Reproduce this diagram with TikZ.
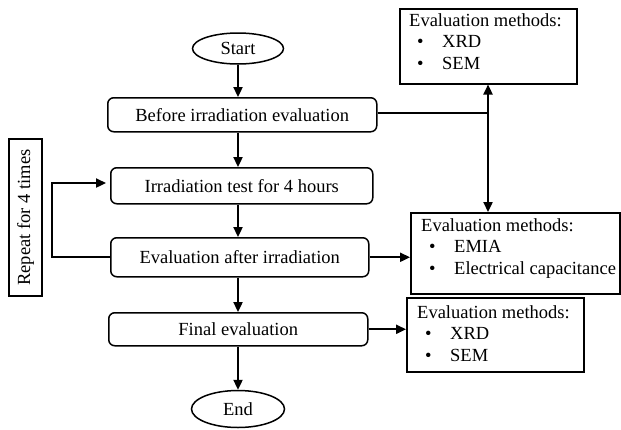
\documentclass[tikz,border=0pt]{standalone}
\usepackage{fontspec}
\setmainfont{Liberation Serif}
\usetikzlibrary{arrows.meta,shapes.geometric}
\newcommand{\bitem}[1]{\hspace*{8pt}\makebox[25pt][l]{\textbullet}#1}
\begin{document}
\begin{tikzpicture}[x=1pt,y=-1pt,
  every node/.style={font=\fontsize{18.5}{21.5}\selectfont, inner sep=0pt},
  stepbox/.style={draw, rounded corners=6pt, line width=1.5pt, anchor=north west},
  termbox/.style={draw, ellipse, line width=1.5pt},
  methbox/.style={draw, line width=1.5pt, anchor=north west},
  flow/.style={line width=2.3pt, -{Triangle[length=10pt,width=9pt]}},
  plain/.style={line width=2.3pt}]
\useasboundingbox (0,0) rectangle (621,429);
% terminals
\node[termbox, minimum width=91pt, minimum height=31pt] (start) at (238,48.5) {Start};
\node[termbox, minimum width=93pt, minimum height=37pt] (end) at (238,409) {End};
% process boxes
\node[stepbox, minimum width=269pt, minimum height=34pt] (before) at (107,97) {Before irradiation evaluation};
\node[stepbox, minimum width=262pt, minimum height=36pt] (irr) at (110,167) {Irradiation test for 4 hours};
\node[stepbox, minimum width=258pt, minimum height=39pt] (after) at (110,237) {Evaluation after irradiation};
\node[stepbox, minimum width=259pt, minimum height=33pt] (final) at (108,312) {Final evaluation};
% method boxes
\node[methbox, minimum width=177pt, minimum height=75pt] (m1) at (399,8) {};
\node[anchor=north west, align=left] at (409,13) {Evaluation methods:\\ \bitem{XRD}\\ \bitem{SEM}};
\node[methbox, minimum width=209pt, minimum height=81pt] (m2) at (410,212) {};
\node[anchor=north west, align=left] at (421,218) {Evaluation methods:\\ \bitem{EMIA}\\ \bitem{Electrical capacitance}};
\node[methbox, minimum width=177pt, minimum height=74pt] (m3) at (406,297) {};
\node[anchor=north west, align=left] at (417,305) {Evaluation methods:\\ \bitem{XRD}\\ \bitem{SEM}};
% repeat label
\node[draw, line width=1.5pt, minimum width=157pt, minimum height=33pt, rotate=90] (rep) at (25.5,217.5) {Repeat for 4 times};
% main flow
\coordinate (col) at (238,0);
\draw[flow] (start.south) -- (before.north -| col);
\draw[flow] (before.south -| col) -- (irr.north -| col);
\draw[flow] (irr.south -| col) -- (after.north -| col);
\draw[flow] (after.south -| col) -- (final.north -| col);
\draw[flow] (final.south -| col) -- (end.north);
% branch from before
\coordinate (j) at (488,113);
\draw[plain] (before.east |- j) -- (j);
\draw[flow] (j) -- (m1.south -| j);
\draw[flow] (j) -- (m2.north -| j);
% side arrows
\draw[flow] (after.east) -- (m2.west |- after.east);
\draw[flow] (final.east) -- (m3.west |- final.east);
% loop
\coordinate (lb) at (52,257);
\coordinate (lt) at (52,183);
\draw[flow] (after.west |- lb) -- (lb) -- (lt) -- ([xshift=-4pt]irr.west |- lt);
\end{tikzpicture}
\end{document}
